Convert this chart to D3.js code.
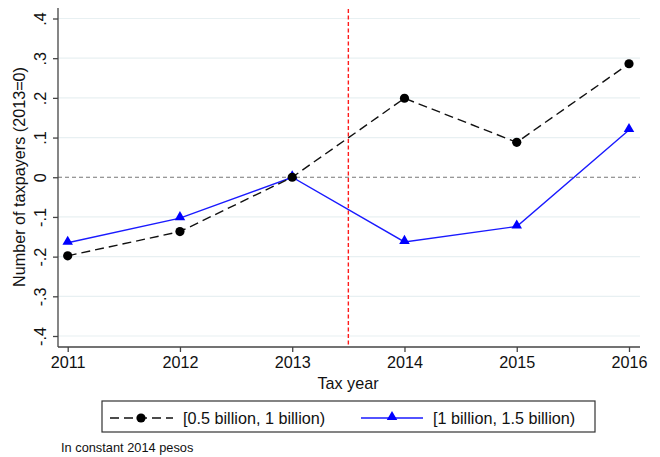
<!DOCTYPE html>
<html><head><meta charset="utf-8">
<script src="https://cdn.jsdelivr.net/npm/d3@7"></script>
<style>body{margin:0;background:#fff}svg{display:block;font-family:"Liberation Sans",Arial,Helvetica,sans-serif}</style>
</head><body><svg id="c" width="660" height="457"></svg>
<script>
const years = [2011, 2012, 2013, 2014, 2015, 2016];
const seriesLow = [-0.198, -0.137, 0.0, 0.199, 0.088, 0.286];
const seriesHigh = [-0.165, -0.103, 0.0, -0.163, -0.124, 0.119];
const yTicks = [-0.4, -0.3, -0.2, -0.1, 0, 0.1, 0.2, 0.3, 0.4];
const yTickLabels = ["-.4", "-.3", "-.2", "-.1", "0", ".1", ".2", ".3", ".4"];
const legendLabels = ["[0.5 billion, 1 billion)", "[1 billion, 1.5 billion)"];
const cutoffYear = 2013.5;

(function(){
const svg = d3.select("#c");
const x = d3.scaleLinear().domain([2011, 2016]).range([67.7, 629]);
const y = d3.scaleLinear().domain([-0.4, 0.4]).range([336, 18.5]);
const pL = 58, pR = 640, pT = 8, pB = 347;
const fs = 16.2;

// gridlines
svg.append("g").selectAll("line").data(yTicks.filter(d => d !== 0)).join("line")
  .attr("x1", pL).attr("x2", pR).attr("y1", d => y(d)).attr("y2", d => y(d))
  .attr("stroke", "#e8f0f2").attr("stroke-width", 1.2);

// zero line
svg.append("line").attr("x1", pL).attr("x2", pR).attr("y1", y(0)).attr("y2", y(0))
  .attr("stroke", "#777").attr("stroke-width", 1).attr("stroke-dasharray", "4,3");

// axes
const yAxis = d3.axisLeft(y).tickValues(yTicks).tickFormat((d, i) => yTickLabels[i]).tickSize(5).tickSizeOuter(0);
const gy = svg.append("g").attr("transform", `translate(${pL},0)`).call(yAxis);
gy.select(".domain").attr("d", `M0,${pT}V${pB}`).attr("stroke", "#444").attr("stroke-width", 1.3);
gy.selectAll(".tick line").attr("stroke", "#444").attr("stroke-width", 1.3);
gy.selectAll(".tick text").attr("font-size", fs).attr("fill", "#111")
  .attr("transform", "rotate(-90)").attr("x", 0).attr("y", -18).attr("dy", null)
  .attr("text-anchor", "middle").attr("dominant-baseline", "central");

const xAxis = d3.axisBottom(x).tickValues(years).tickFormat(d3.format("d")).tickSize(5).tickSizeOuter(0);
const gx = svg.append("g").attr("transform", `translate(0,${pB})`).call(xAxis);
gx.select(".domain").attr("d", `M${pL},0H${pR}`).attr("stroke", "#444").attr("stroke-width", 1.3);
gx.selectAll(".tick line").attr("stroke", "#444").attr("stroke-width", 1.3);
gx.selectAll(".tick text").attr("font-size", fs).attr("fill", "#111").attr("y", 9);

// axis titles
svg.append("text").attr("x", 348).attr("y", 389).attr("text-anchor", "middle")
  .attr("font-size", fs).attr("fill", "#111").text("Tax year");
svg.append("text").attr("transform", `translate(25,177) rotate(-90)`).attr("text-anchor", "middle")
  .attr("font-size", fs).attr("fill", "#111").text("Number of taxpayers (2013=0)");

// cutoff line
svg.append("line").attr("x1", x(cutoffYear)).attr("x2", x(cutoffYear)).attr("y1", 9).attr("y2", pB - 1)
  .attr("stroke", "#ff1a1a").attr("stroke-width", 1.4).attr("stroke-dasharray", "4,2.5");

const line = d3.line().x((d, i) => x(years[i])).y(d => y(d));
const tri = d3.symbol().type(d3.symbolTriangle).size(48);

// blue series
svg.append("path").datum(seriesHigh).attr("d", line).attr("fill", "none")
  .attr("stroke", "#1a1aff").attr("stroke-width", 1.4);
svg.append("g").selectAll("path").data(seriesHigh).join("path")
  .attr("d", tri).attr("transform", (d, i) => `translate(${x(years[i])},${y(d) - 1})`).attr("fill", "#0000ff");

// black series
svg.append("path").datum(seriesLow).attr("d", line).attr("fill", "none")
  .attr("stroke", "#111").attr("stroke-width", 1.4).attr("stroke-dasharray", "9,5");
svg.append("g").selectAll("circle").data(seriesLow).join("circle")
  .attr("cx", (d, i) => x(years[i])).attr("cy", d => y(d)).attr("r", 4.6).attr("fill", "#000");

// legend
const lg = svg.append("g");
lg.append("rect").attr("x", 102).attr("y", 401).attr("width", 493).attr("height", 31)
  .attr("fill", "#fff").attr("stroke", "#333").attr("stroke-width", 1.2);
const ly = 418;
lg.append("line").attr("x1", 110).attr("x2", 173).attr("y1", ly).attr("y2", ly)
  .attr("stroke", "#111").attr("stroke-width", 1.4).attr("stroke-dasharray", "9,5");
lg.append("circle").attr("cx", 141).attr("cy", ly).attr("r", 4.6).attr("fill", "#000");
lg.append("text").attr("x", 183).attr("y", ly).attr("dy", "0.35em").attr("font-size", fs).attr("fill", "#111").text(legendLabels[0]);
lg.append("line").attr("x1", 361).attr("x2", 423).attr("y1", ly).attr("y2", ly)
  .attr("stroke", "#1a1aff").attr("stroke-width", 1.4);
lg.append("path").attr("d", tri).attr("transform", `translate(392,${ly - 1})`).attr("fill", "#0000ff");
lg.append("text").attr("x", 433).attr("y", ly).attr("dy", "0.35em").attr("font-size", fs).attr("fill", "#111").text(legendLabels[1]);

// note
svg.append("text").attr("x", 61).attr("y", 452).attr("font-size", 12.8).attr("fill", "#111").text("In constant 2014 pesos");
})();
</script></body></html>
